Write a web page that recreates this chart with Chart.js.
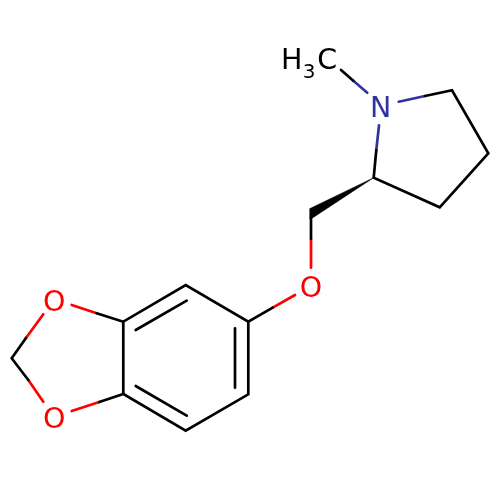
<!DOCTYPE html>
<html>
<head>
<meta charset="utf-8">
<style>
  html, body { margin: 0; padding: 0; background: #fff; }
  canvas { display: block; }
</style>
<script src="https://cdn.jsdelivr.net/npm/chart.js@4"></script>
</head>
<body>
<canvas id="chart" width="500" height="500"></canvas>
<script>
// bond paths in picture units, null breaks the line
const blackX = [353.3, 341, null, 425, 452, 488.3, 439.7, 373.7, 376.3, null,
  311, 311, null, 272.7, 248.3, 185.7, 123.3, 123.3, 185.7, 248.3, 248.3, null,
  235, 235, null, 186.7, 135.7, null, 135.7, 186.7, null,
  96.7, 123.3, null, 99.3, 123.3, null, 26, 11.7, 28.3];
const blackY = [80.7, 70, null, 96, 90.3, 153.3, 207.3, 177.7, 150, null,
  218, 239, null, 307.7, 321.7, 285, 321.7, 394, 430.7, 394.3, 321.7, null,
  328.3, 387.7, null, 300.7, 330, null, 386, 415.7, null,
  313.3, 321.7, null, 402, 394, null, 338, 358.3, 380];

const blueX = [353.3, 367.3, null, 398.7, 425, null, 379, 376.3];
const blueY = [80.7, 92.7, null, 101.7, 96, null, 125.3, 150];

const redX = [311, 311, null, 295, 272.7, null, 71.7, 96.7, null, 71.7, 99.3, null, 43.3, 26, null, 43.3, 28.3];
const redY = [239, 267.7, null, 295, 307.7, null, 305, 313.3, null, 411, 402, null, 314.3, 338, null, 401.7, 380];

// stereo wedge outline
const wedgeX = [373.7, 310, 310, 312.5, 373.7];
const wedgeY = [177.7, 208.5, 219, 218, 177.7];

// atom labels
const labelText = ['N', 'H', '3', 'C', 'O', 'O', 'O'];
const labelX = [380.7, 291.7, 309, 327.3, 311, 54.3, 54.3];
const labelY = [117, 68.5, 78.3, 68.5, 297, 310.8, 427.6];
const labelSize = [28.5, 28.5, 20, 28.5, 28.5, 28.5, 28.5];
const labelColor = ['#33339f', '#000', '#000', '#000', '#ff0000', '#ff0000', '#ff0000'];

function toPoints(xs, ys) {
    return xs.map((x, i) => ({ x: x, y: ys[i] }));
}

function bondSet(xs, ys, color) {
    return {
        data: toPoints(xs, ys),
        borderColor: color,
        borderWidth: 2.7,
        borderCapStyle: 'round',
        borderJoinStyle: 'miter',
        pointRadius: 0,
        showLine: true,
        spanGaps: false,
        tension: 0
    };
}

const atomLabels = {
    id: 'atomLabels',
    afterDatasetsDraw(chart) {
        const c = chart.ctx;
        c.save();
        c.textAlign = 'center';
        c.textBaseline = 'alphabetic';
        labelText.forEach((t, i) => {
            c.font = labelSize[i] + 'px "DejaVu Sans"';
            c.fillStyle = labelColor[i];
            c.fillText(t, chart.scales.x.getPixelForValue(labelX[i]), chart.scales.y.getPixelForValue(labelY[i]));
        });
        c.restore();
    }
};

new Chart(document.getElementById('chart'), {
    type: 'scatter',
    data: {
        datasets: [
            {
                data: toPoints(wedgeX, wedgeY),
                borderColor: '#000',
                backgroundColor: '#000',
                borderWidth: 0.5,
                pointRadius: 0,
                showLine: true,
                fill: 'shape',
                tension: 0
            },
            bondSet(blackX, blackY, '#000'),
            bondSet(blueX, blueY, '#33339f'),
            bondSet(redX, redY, '#ff0000')
        ]
    },
    plugins: [atomLabels],
    options: {
        responsive: false,
        animation: false,
        layout: { padding: 0 },
        plugins: {
            legend: { display: false },
            tooltip: { enabled: false },
            title: { display: false }
        },
        scales: {
            x: { type: 'linear', min: 0, max: 500, display: false },
            y: { type: 'linear', min: 0, max: 500, reverse: true, display: false }
        }
    }
});
</script>
</body>
</html>
